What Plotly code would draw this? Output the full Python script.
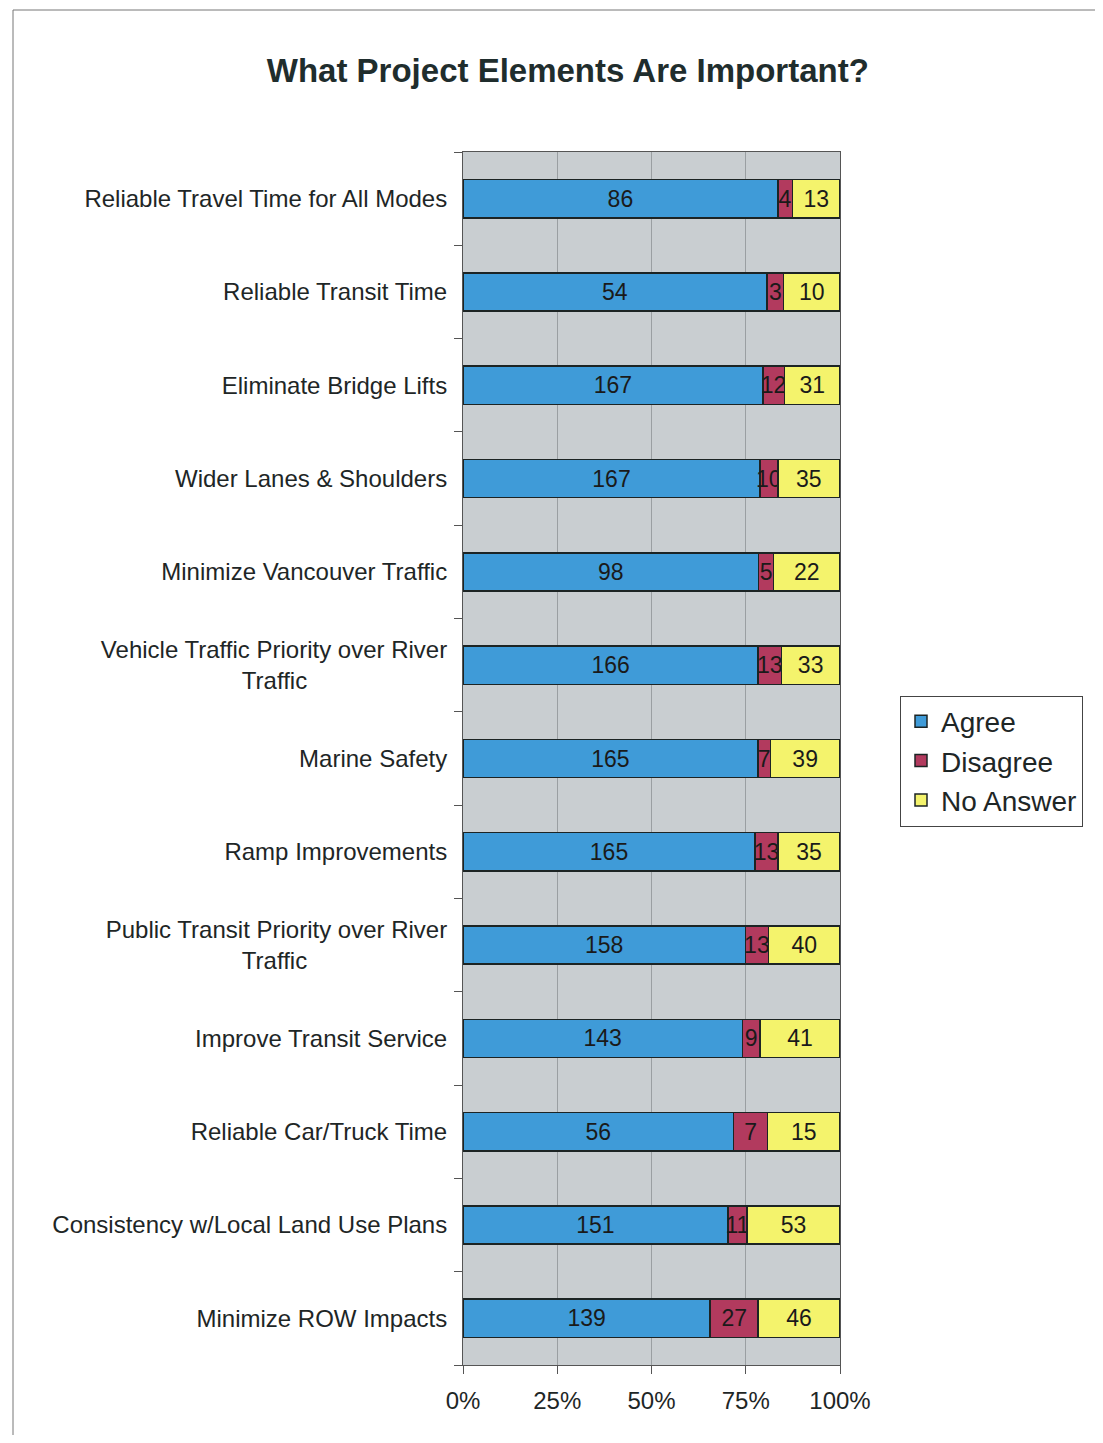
import plotly.graph_objects as go

categories = [
    "Reliable Travel Time for All Modes",
    "Reliable Transit Time",
    "Eliminate Bridge Lifts",
    "Wider Lanes & Shoulders",
    "Minimize Vancouver Traffic",
    "Vehicle Traffic Priority over River Traffic",
    "Marine Safety",
    "Ramp Improvements",
    "Public Transit Priority over River Traffic",
    "Improve Transit Service",
    "Reliable Car/Truck Time",
    "Consistency w/Local Land Use Plans",
    "Minimize ROW Impacts",
]
PAD = "\u00a0" * 21
tick_labels = [
    "Reliable Travel Time for All Modes",
    "Reliable Transit Time",
    "Eliminate Bridge Lifts",
    "Wider Lanes & Shoulders",
    "Minimize Vancouver Traffic",
    "Vehicle Traffic Priority over River<br>Traffic" + PAD,
    "Marine Safety",
    "Ramp Improvements",
    "Public Transit Priority over River<br>Traffic" + PAD,
    "Improve Transit Service",
    "Reliable Car/Truck Time",
    "Consistency w/Local Land Use Plans",
    "Minimize ROW Impacts",
]
agree = [86, 54, 167, 167, 98, 166, 165, 165, 158, 143, 56, 151, 139]
disagree = [4, 3, 12, 10, 5, 13, 7, 13, 13, 9, 7, 11, 27]
no_answer = [13, 10, 31, 35, 22, 33, 39, 35, 40, 41, 15, 53, 46]
x_ticks = [0, 25, 50, 75, 100]
x_tick_labels = ["0%", "25%", "50%", "75%", "100%"]

FONT = "Liberation Sans, Arial, sans-serif"
series = [
    ("Agree", agree, "#3f9bd8"),
    ("Disagree", disagree, "#b23a5e"),
    ("No Answer", no_answer, "#f4f36c"),
]

W, H = 1087, 1427
L, R, T, B = 455, 255, 144, 70
PW, PH = W - L - R, H - T - B

fig = go.Figure()
for name, vals, color in series:
    fig.add_trace(go.Bar(
        y=categories, x=vals, name=name, orientation="h",
        marker=dict(color=color, line=dict(color="#1c2424", width=1.5)),
        text=[str(v) for v in vals], textposition="inside",
        insidetextanchor="middle", textangle=0,
        textfont=dict(family=FONT, size=23, color="#1a1a1a"),
        width=0.41,
    ))

fig.update_layout(
    barmode="stack", barnorm="percent",
    width=W, height=H,
    paper_bgcolor="white", plot_bgcolor="#c9ced1",
    margin=dict(l=L, r=R, t=T, b=B),
    font=dict(family=FONT, color="#1e2626"),
    uniformtext=dict(minsize=23, mode="show"),
    title=dict(text="<b>What Project Elements Are Important?</b>",
               x=0.515, xanchor="center", y=1 - 62 / H, yanchor="middle",
               font=dict(family=FONT, size=33, color="#1f2d2d")),
    legend=dict(x=(W - 12 - L) / PW, y=(T + PH - 753) / PH, xanchor="right", yanchor="middle",
                font=dict(family=FONT, size=28, color="#1e2626"),
                bordercolor="#444", borderwidth=1, bgcolor="white",
                traceorder="normal"),
    showlegend=True,
)
fig.update_xaxes(range=[0, 100], tickvals=x_ticks, ticktext=x_tick_labels,
                 showgrid=True, gridcolor="#9a9fa2", gridwidth=1,
                 ticks="outside", ticklen=8, tickcolor="#555",
                 ticklabelstandoff=6,
                 tickfont=dict(family=FONT, size=24, color="#1e2626"),
                 showline=True, linecolor="#555", linewidth=1, mirror=True,
                 zeroline=False)
fig.update_yaxes(autorange="reversed", categoryorder="array", categoryarray=categories,
                 tickvals=categories, ticktext=tick_labels,
                 tickson="boundaries", ticks="outside", ticklen=8, tickcolor="#555",
                 ticklabelstandoff=10,
                 showgrid=False, showline=True, linecolor="#555", linewidth=1, mirror=True,
                 tickfont=dict(family=FONT, size=24, color="#1e2626"))

# scanned page frame
top_y = (T + PH - 2) / PH
left_x = (5 - L) / PW
fig.add_shape(type="line", xref="paper", yref="paper",
              x0=left_x, x1=(W - L) / PW, y0=top_y, y1=top_y,
              line=dict(color="#777", width=1))
fig.add_shape(type="line", xref="paper", yref="paper",
              x0=left_x, x1=left_x, y0=top_y, y1=(T + PH - H) / PH,
              line=dict(color="#777", width=1))

fig.write_html("out.html")
